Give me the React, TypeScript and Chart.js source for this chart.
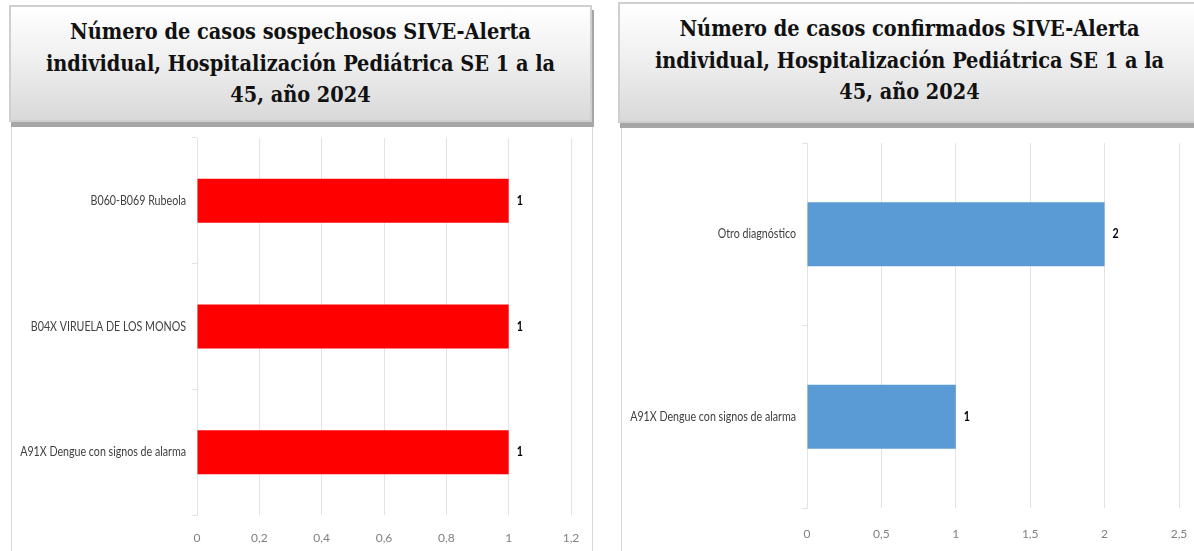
import React, { useEffect, useRef } from "react";
import { Chart, registerables } from "chart.js";

Chart.register(...registerables);

// ---- data ----
const suspectCategories = [
  "B060-B069 Rubeola",
  "B04X VIRUELA DE LOS MONOS",
  "A91X Dengue con signos de alarma",
];
const suspectValues = [1, 1, 1];
const suspectAxisMax = 1.2;
const suspectAxisStep = 0.2;

const confirmedCategories = ["Otro diagnóstico", "A91X Dengue con signos de alarma"];
const confirmedValues = [2, 1];
const confirmedAxisMax = 2.5;
const confirmedAxisStep = 0.5;

const suspectTitle = [
  "Número de casos sospechosos SIVE-Alerta",
  "individual, Hospitalización Pediátrica SE 1 a la",
  "45, año 2024",
];
const confirmedTitle = [
  "Número de casos confirmados SIVE-Alerta",
  "individual, Hospitalización Pediátrica SE 1 a la",
  "45, año 2024",
];

const AXIS_FONT = 'Lato, "DejaVu Sans Condensed", sans-serif';
const TITLE_FONT = '"DejaVu Serif Condensed", "DejaVu Serif", "Liberation Serif", serif';
const CONDENSE = 0.82;

const fmt = (v: number) => String(+Number(v).toFixed(1)).replace(".", ",");

const valueLabels = {
  id: "valueLabels",
  afterDatasetsDraw(chart: any) {
    const ctx = chart.ctx;
    const meta = chart.getDatasetMeta(0);
    const ds = chart.data.datasets[0];
    ctx.save();
    ctx.font = "bold 13px " + AXIS_FONT;
    ctx.fillStyle = "#000000";
    ctx.textBaseline = "middle";
    ctx.textAlign = "left";
    meta.data.forEach((bar: any, i: number) => {
      ctx.save();
      ctx.translate(bar.x + 8, bar.y);
      ctx.scale(CONDENSE, 1);
      ctx.fillText(String(ds.data[i]), 0, 0);
      ctx.restore();
    });
    ctx.restore();
  },
};

// category labels drawn in a condensed face at the y scale's own positions
const condensedYLabels = {
  id: "condensedYLabels",
  afterDraw(chart: any) {
    const ys = chart.scales.y;
    const ctx = chart.ctx;
    ctx.save();
    ctx.font = "13px " + AXIS_FONT;
    ctx.fillStyle = "#404040";
    ctx.textAlign = "right";
    ctx.textBaseline = "middle";
    (chart.data.labels as string[]).forEach((l, i) => {
      const yy = ys.getPixelForValue(i);
      ctx.save();
      ctx.translate(ys.right - 11, yy);
      ctx.scale(CONDENSE, 1);
      ctx.fillText(l, 0, 0);
      ctx.restore();
    });
    ctx.restore();
  },
};

type BarProps = {
  categories: string[];
  values: number[];
  color: string;
  max: number;
  step: number;
  padTop: number;
  padRight: number;
  xAxisHeight: number;
  xLabelGap: number;
  yAxisWidth: number;
  style: React.CSSProperties;
};

function BarChart(p: BarProps) {
  const ref = useRef<HTMLCanvasElement | null>(null);
  useEffect(() => {
    if (!ref.current) return;
    const chart = new Chart(ref.current, {
      type: "bar",
      data: {
        labels: p.categories,
        datasets: [
          {
            data: p.values,
            backgroundColor: p.color,
            borderWidth: 0,
            categoryPercentage: 1,
            barPercentage: 0.35,
          },
        ],
      },
      plugins: [valueLabels, condensedYLabels],
      options: {
        indexAxis: "y",
        responsive: true,
        maintainAspectRatio: false,
        animation: false,
        layout: { padding: { top: p.padTop, right: p.padRight, left: 0, bottom: 0 } },
        plugins: {
          legend: { display: false },
          title: { display: false },
          tooltip: { enabled: false },
        },
        scales: {
          x: {
            min: 0,
            max: p.max,
            border: { display: false },
            grid: {
              color: "#e3e3e3",
              drawTicks: true,
              tickLength: p.xLabelGap,
              tickColor: "rgba(0,0,0,0)",
              lineWidth: 1,
            },
            ticks: {
              stepSize: p.step,
              padding: 0,
              color: "#808080",
              font: { family: AXIS_FONT, size: 12 },
              callback: (v: any) => fmt(v),
              maxRotation: 0,
            },
            afterFit: (s: any) => {
              s.height = p.xAxisHeight;
            },
          },
          y: {
            border: { display: true, color: "#e3e3e3" },
            grid: {
              offset: true,
              drawOnChartArea: false,
              drawTicks: true,
              tickLength: 5,
              color: "#e3e3e3",
            },
            ticks: { display: false },
            afterFit: (s: any) => {
              s.width = p.yAxisWidth;
            },
          },
        },
      },
    });
    return () => chart.destroy();
  }, []);
  return (
    <div style={{ position: "absolute", ...p.style }}>
      <canvas ref={ref} />
    </div>
  );
}

function TitleBox({ lines, style }: { lines: string[]; style: React.CSSProperties }) {
  return (
    <div
      style={{
        position: "absolute",
        boxSizing: "border-box",
        border: "2px solid #cfcfcf",
        background: "linear-gradient(#ffffff 0%, #f0f0f0 45%, #d9d9d9 100%)",
        boxShadow: "2px 5px 0 0 #a6a6a6",
        textAlign: "center",
        fontFamily: TITLE_FONT,
        fontWeight: "bold",
        fontSize: "21.5px",
        lineHeight: "31.5px",
        color: "#111111",
        ...style,
      }}
    >
      {lines.map((l, i) => (
        <div key={i}>{l}</div>
      ))}
    </div>
  );
}

export default function App() {
  return (
    <div
      style={{
        position: "fixed",
        left: 0,
        top: 0,
        width: 1194,
        height: 551,
        overflow: "hidden",
        background: "#ffffff",
      }}
    >
      {/* frames */}
      <div
        style={{
          position: "absolute",
          left: 11,
          top: 118,
          width: 580,
          height: 460,
          borderLeft: "1px solid #d9d9d9",
          borderRight: "1px solid #d9d9d9",
        }}
      />
      <div
        style={{
          position: "absolute",
          left: 621,
          top: 118,
          width: 600,
          height: 460,
          borderLeft: "1px solid #d9d9d9",
        }}
      />
      <TitleBox lines={suspectTitle} style={{ left: 9, top: 5, width: 583, height: 117, paddingTop: 9 }} />
      <TitleBox lines={confirmedTitle} style={{ left: 618, top: 2, width: 583, height: 121, paddingTop: 9 }} />
      <BarChart
        categories={suspectCategories}
        values={suspectValues}
        color="#ff0000"
        max={suspectAxisMax}
        step={suspectAxisStep}
        padTop={12}
        padRight={21}
        xAxisHeight={36}
        xLabelGap={16}
        yAxisWidth={185}
        style={{ left: 12, top: 126, width: 580, height: 425 }}
      />
      <BarChart
        categories={confirmedCategories}
        values={confirmedValues}
        color="#5b9bd5"
        max={confirmedAxisMax}
        step={confirmedAxisStep}
        padTop={15}
        padRight={15}
        xAxisHeight={43}
        xLabelGap={19}
        yAxisWidth={185}
        style={{ left: 622, top: 128, width: 572, height: 423 }}
      />
    </div>
  );
}
